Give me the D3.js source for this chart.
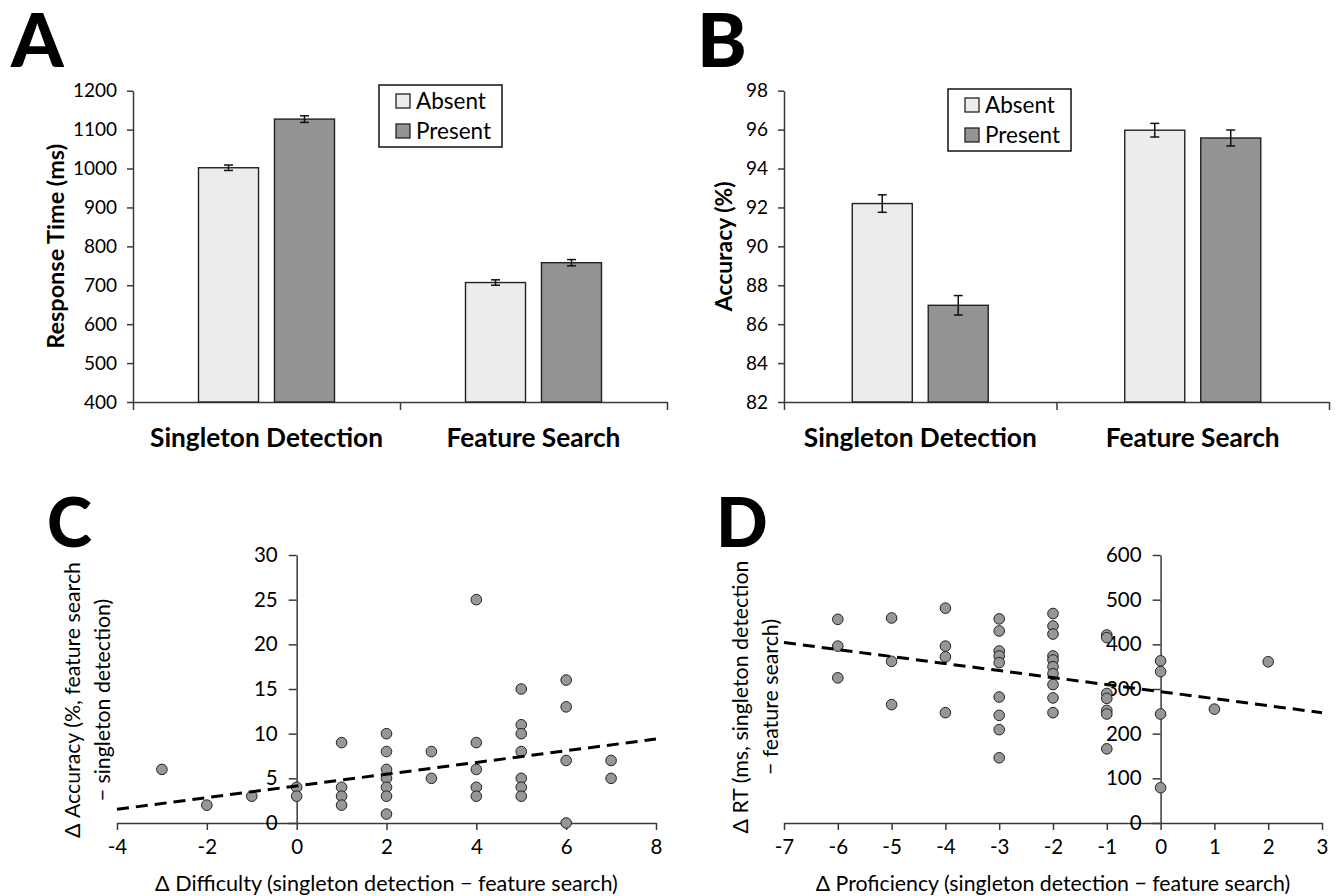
<!DOCTYPE html>
<html>
<head>
<meta charset="utf-8">
<script src="https://cdn.jsdelivr.net/npm/d3@7"></script>
<style>
  body { margin: 0; background: #fff; }
  svg { display: block; }
  text { font-family: Lato, "Open Sans", sans-serif; fill: #000; }
</style>
</head>
<body>
<svg id="fig" width="1336" height="896"></svg>
<script>
// ---- data ----
var groups = ['Singleton Detection', 'Feature Search'];
var conditions = ['Absent', 'Present'];

// panel A: response time (ms), [group][condition]
var rtMean = [[1002, 1127], [707, 758]];
var rtErr = [[7, 8.5], [7, 8]];
var rtTicks = [400, 500, 600, 700, 800, 900, 1000, 1100, 1200];

// panel B: accuracy (%)
var accMean = [[92.2, 86.97], [95.97, 95.57]];
var accErr = [[0.45, 0.5], [0.35, 0.41]];
var accTicks = [82, 84, 86, 88, 90, 92, 94, 96, 98];

// panel C: difficulty difference vs accuracy difference
var diffX = [-3, -2, -1, 0, 0, 1, 1, 1, 1, 2, 2, 2, 2, 2, 2, 2, 3, 3,
             4, 4, 4, 4, 4, 5, 5, 5, 5, 5, 5, 5, 6, 6, 6, 6, 7, 7];
var diffY = [6, 2, 3, 4, 3, 9, 4, 3, 2, 10, 8, 6, 5, 4, 3, 1, 8, 5,
             25, 9, 6, 4, 3, 15, 11, 10, 8, 5, 4, 3, 16, 13, 7, 0, 7, 5];
var diffTrend = [[-4, 1.53], [8, 9.4]];
var diffXTicks = [-4, -2, 0, 2, 4, 6, 8];
var diffYTicks = [0, 5, 10, 15, 20, 25, 30];

// panel D: proficiency difference vs RT difference
var profX = [-6, -6, -6, -5, -5, -5, -4, -4, -4, -4,
             -3, -3, -3, -3, -3, -3, -3, -3, -3,
             -2, -2, -2, -2, -2, -2, -2, -2, -2, -2,
             -1, -1, -1, -1, -1, -1, -1, 0, 0, 0, 0, 1, 2];
var profY = [456, 396, 325, 459, 362, 265, 481, 396, 372, 247,
             457, 430, 385, 374, 359, 282, 241, 209, 146,
             469, 441, 423, 374, 365, 350, 334, 310, 280, 247,
             421, 415, 290, 279, 252, 244, 166, 363, 339, 244, 79, 255, 361];
var profTrend = [[-7, 404], [3, 247]];
var profXTicks = [-7, -6, -5, -4, -3, -2, -1, 0, 1, 2, 3];
var profYTicks = [0, 100, 200, 300, 400, 500, 600];

// ---- styles ----
var fills = {Absent: '#ececec', Present: '#949494'};
var axisColor = '#3a3a3a';
var plain = function (d) { return String(d); };  // no thousands comma, hyphen minus

var svg = d3.select('#fig');

function fitText(sel, width) {
  var fs = parseFloat(sel.style('font-size'));
  var w = sel.node().getComputedTextLength();
  sel.style('font-size', (fs * width / w) + 'px');
}

function styleAxis(g, fontSize) {
  g.attr('font-family', null).attr('font-size', null);
  g.select('.domain').attr('stroke', axisColor).attr('stroke-width', 1.5);
  g.selectAll('.tick line').attr('stroke', axisColor).attr('stroke-width', 1.5);
  g.selectAll('.tick text').style('font-size', fontSize + 'px').attr('fill', '#000');
}

function panelLetter(t, x, y, size) {
  svg.append('text')
    .attr('x', x).attr('y', y)
    .style('font-size', size + 'px')
    .style('font-weight', 900)
    .text(t);
}

// ---- bar panels ----
function barPanel(cfg) {
  var g = svg.append('g');

  var y = d3.scaleLinear().domain(cfg.domain).range([cfg.yBot, cfg.yTop]);
  var x = d3.scaleBand().domain(groups).range([cfg.x0, cfg.x1]);
  var inner = d3.scaleBand().domain(conditions).range([0, 136]).paddingInner(0.21);
  var edge = d3.scaleLinear().domain([0, groups.length]).range([cfg.x0, cfg.x1]);

  // x axis with category boundary ticks
  g.append('g')
    .attr('transform', 'translate(0,' + cfg.yBot + ')')
    .call(d3.axisBottom(edge).tickValues(d3.range(groups.length + 1)).tickFormat('').tickSize(8).tickSizeOuter(0))
    .call(styleAxis, 18);

  // y axis
  g.append('g')
    .attr('transform', 'translate(' + cfg.x0 + ',0)')
    .call(d3.axisLeft(y).tickValues(cfg.ticks).tickFormat(plain).tickSize(6).tickPadding(10).tickSizeOuter(0))
    .call(styleAxis, 19);

  var rows = [];
  groups.forEach(function (gr, i) {
    conditions.forEach(function (c, j) {
      rows.push({g: gr, c: c, v: cfg.mean[i][j], e: cfg.err[i][j]});
    });
  });
  var bx = function (d) { return x(d.g) + (x.bandwidth() - 136) / 2 + inner(d.c); };

  g.selectAll('.bar')
    .data(rows)
    .enter()
    .append('rect')
    .attr('class', 'bar')
    .attr('x', bx)
    .attr('y', function (d) { return y(d.v); })
    .attr('width', inner.bandwidth())
    .attr('height', function (d) { return cfg.yBot - y(d.v); })
    .attr('fill', function (d) { return fills[d.c]; })
    .attr('stroke', '#222')
    .attr('stroke-width', 1.4);

  // error bars
  var eb = g.selectAll('.err')
    .data(rows)
    .enter()
    .append('g')
    .attr('class', 'err')
    .attr('stroke', '#111')
    .attr('stroke-width', 1.5);
  eb.append('line')
    .attr('x1', function (d) { return bx(d) + inner.bandwidth() / 2; })
    .attr('x2', function (d) { return bx(d) + inner.bandwidth() / 2; })
    .attr('y1', function (d) { return y(d.v + d.e); })
    .attr('y2', function (d) { return y(d.v - d.e); });
  [1, -1].forEach(function (s) {
    eb.append('line')
      .attr('x1', function (d) { return bx(d) + inner.bandwidth() / 2 - 4.5; })
      .attr('x2', function (d) { return bx(d) + inner.bandwidth() / 2 + 4.5; })
      .attr('y1', function (d) { return y(d.v + s * d.e); })
      .attr('y2', function (d) { return y(d.v + s * d.e); });
  });

  // category labels
  g.selectAll('.cat')
    .data(groups)
    .enter()
    .append('text')
    .attr('class', 'cat')
    .attr('x', function (d) { return x(d) + x.bandwidth() / 2; })
    .attr('y', 447)
    .attr('text-anchor', 'middle')
    .style('font-weight', 700)
    .style('font-size', '24px')
    .text(function (d) { return d; });
  fitText(g.select('.cat'), 233);
  g.selectAll('.cat').style('font-size', g.select('.cat').style('font-size'));

  // y title
  var yt = g.append('text')
    .attr('transform', 'translate(' + cfg.titleX + ',' + ((cfg.yTop + cfg.yBot) / 2) + ') rotate(-90)')
    .attr('text-anchor', 'middle')
    .style('font-weight', 700)
    .style('font-size', '22px')
    .text(cfg.yTitle);
  fitText(yt, cfg.titleLen);

  // legend
  var lg = g.append('g').attr('transform', 'translate(' + cfg.legend[0] + ',' + cfg.legend[1] + ')');
  lg.append('rect')
    .attr('width', 123).attr('height', 62)
    .attr('fill', '#fff').attr('stroke', '#111').attr('stroke-width', 1.5);
  conditions.forEach(function (c, j) {
    lg.append('rect')
      .attr('x', 17).attr('y', 9 + j * 30)
      .attr('width', 14).attr('height', 14)
      .attr('fill', fills[c]).attr('stroke', '#222').attr('stroke-width', 1.3);
    lg.append('text')
      .attr('x', 37).attr('y', 23.5 + j * 30)
      .style('font-size', '22.5px')
      .text(c);
  });
}

barPanel({
  x0: 133, x1: 667, yTop: 90.7, yBot: 402,
  domain: [400, 1200], ticks: rtTicks, mean: rtMean, err: rtErr,
  yTitle: 'Response Time (ms)', titleX: 64, titleLen: 205,
  legend: [379, 85]
});
barPanel({
  x0: 784, x1: 1329, yTop: 90.7, yBot: 402,
  domain: [82, 98], ticks: accTicks, mean: accMean, err: accErr,
  yTitle: 'Accuracy (%)', titleX: 732, titleLen: 130,
  legend: [948, 89]
});

// ---- scatter panels ----
function scatterPanel(cfg) {
  var g = svg.append('g');
  var x = d3.scaleLinear().domain(cfg.xDomain).range([cfg.x0, cfg.x1]);
  var y = d3.scaleLinear().domain(cfg.yDomain).range([823, 555]);

  g.append('g')
    .attr('transform', 'translate(0,' + y(0) + ')')
    .call(d3.axisBottom(x).tickValues(cfg.xTicks).tickFormat(plain).tickSize(7).tickPadding(9).tickSizeOuter(0))
    .call(styleAxis, 20.5);
  g.append('g')
    .attr('transform', 'translate(' + x(0) + ',0)')
    .call(d3.axisLeft(y).tickValues(cfg.yTicks).tickFormat(plain).tickSize(8).tickPadding(11).tickSizeOuter(0))
    .call(styleAxis, 20.5);

  g.selectAll('.pt')
    .data(cfg.xs)
    .enter()
    .append('circle')
    .attr('class', 'pt')
    .attr('cx', function (d) { return x(d); })
    .attr('cy', function (d, i) { return y(cfg.ys[i]); })
    .attr('r', 5.3)
    .attr('fill', '#979797')
    .attr('stroke', '#222')
    .attr('stroke-width', 1);

  g.append('path')
    .datum(cfg.trend)
    .attr('d', d3.line().x(function (d) { return x(d[0]); }).y(function (d) { return y(d[1]); }))
    .attr('fill', 'none')
    .attr('stroke', '#000')
    .attr('stroke-width', 3)
    .attr('stroke-dasharray', '12,7');

  var xt = g.append('text')
    .attr('x', (cfg.x0 + cfg.x1) / 2).attr('y', 891)
    .attr('text-anchor', 'middle')
    .style('font-size', '20px')
    .text(cfg.xTitle);
  fitText(xt, cfg.xTitleLen);

  // two-line rotated y title
  var size = null;
  cfg.yTitle.forEach(function (line, k) {
    var t = g.append('text')
      .attr('transform', 'translate(' + (cfg.titleX + k * 30) + ',' + cfg.titleY + ') rotate(-90)')
      .attr('text-anchor', 'middle')
      .style('font-size', '20px')
      .text(line);
    if (k === 0) { fitText(t, cfg.yTitleLen); size = t.style('font-size'); }
    else { t.style('font-size', size); }
  });
}

scatterPanel({
  x0: 117, x1: 656, xDomain: [-4, 8], yDomain: [0, 30],
  xs: diffX, ys: diffY, trend: diffTrend, xTicks: diffXTicks, yTicks: diffYTicks,
  xTitle: 'Δ Difficulty (singleton detection − feature search)', xTitleLen: 463,
  yTitle: ['Δ Accuracy (%, feature search', '− singleton detection)'],
  titleX: 80, titleY: 700, yTitleLen: 276
});
scatterPanel({
  x0: 784, x1: 1322, xDomain: [-7, 3], yDomain: [0, 600],
  xs: profX, ys: profY, trend: profTrend, xTicks: profXTicks, yTicks: profYTicks,
  xTitle: 'Δ Proficiency (singleton detection − feature search)', xTitleLen: 475,
  yTitle: ['Δ RT (ms, singleton detection', '− feature search)'],
  titleX: 748, titleY: 697, yTitleLen: 273
});

// ---- panel letters ----
panelLetter('A', 11, 67, 75);
panelLetter('B', 697, 67, 75);
panelLetter('C', 47, 547, 68);
panelLetter('D', 716, 547, 68);
</script>
</body>
</html>
